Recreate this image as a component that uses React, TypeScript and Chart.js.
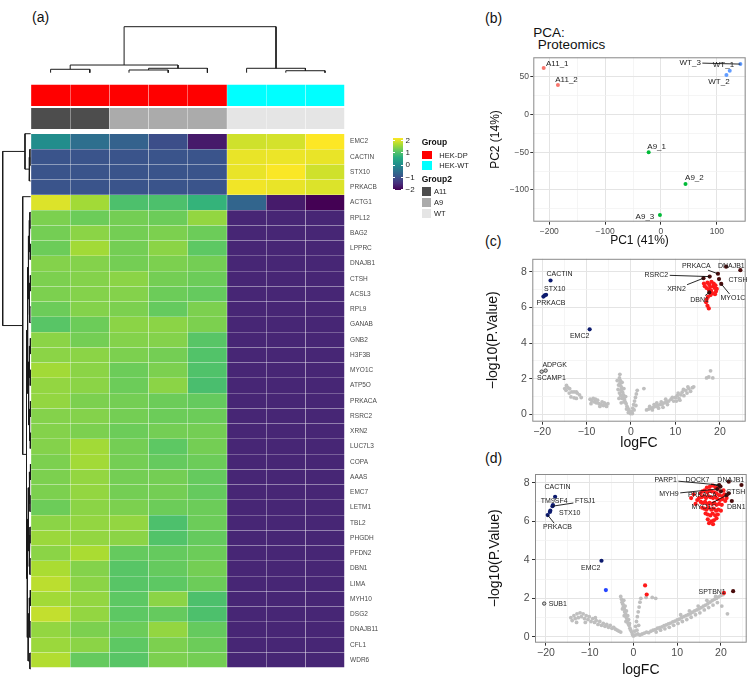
import React, { useEffect, useRef } from 'react';
import { Chart, registerables } from 'chart.js';

Chart.register(...registerables);

const FONT = "'Liberation Sans', Arial, Helvetica, sans-serif";
Chart.defaults.font.family = FONT;

// ================= (a) heatmap data =================
const sampleNames = ['S1', 'S2', 'S3', 'S4', 'S5', 'S6', 'S7', 'S8'];
const sampleGroup = ['HEK-DP', 'HEK-DP', 'HEK-DP', 'HEK-DP', 'HEK-DP', 'HEK-WT', 'HEK-WT', 'HEK-WT'];
const sampleGroup2 = ['A11', 'A11', 'A9', 'A9', 'A9', 'WT', 'WT', 'WT'];
const geneNames = ['EMC2', 'CACTIN', 'STX10', 'PRKACB', 'ACTG1', 'RPL12', 'BAG2', 'LPPRC', 'DNAJB1', 'CTSH',
  'ACSL3', 'RPL9', 'GANAB', 'GNB2', 'H3F3B', 'MYO1C', 'ATP5O', 'PRKACA', 'RSRC2', 'XRN2', 'LUC7L3', 'COPA',
  'AAAS', 'EMC7', 'LETM1', 'TBL2', 'PHGDH', 'PFDN2', 'DBN1', 'LIMA', 'MYH10', 'DSG2', 'DNAJB11', 'CFL1', 'WDR6'];
const zScores: number[][] = [
  [-0.05, -0.55, -0.75, -1.05, -1.72, 1.72, 1.75, 2.0],
  [-0.97, -0.97, -0.97, -0.97, -0.97, 1.88, 1.9, 1.88],
  [-0.97, -0.97, -0.97, -0.97, -0.97, 1.88, 1.98, 1.72],
  [-0.97, -0.97, -0.97, -0.97, -0.97, 1.93, 1.88, 1.8],
  [1.8, 1.45, 0.85, 0.85, 0.62, -0.7, -1.7, -2.0],
  [1.2, 1.1, 1.15, 1.1, 1.35, -1.58, -1.58, -1.58],
  [1.15, 1.3, 1.15, 1.2, 1.1, -1.58, -1.58, -1.58],
  [1.1, 1.45, 1.15, 1.3, 1.0, -1.58, -1.58, -1.58],
  [1.25, 1.25, 1.15, 1.2, 1.15, -1.58, -1.58, -1.58],
  [1.2, 1.25, 1.3, 1.15, 1.1, -1.58, -1.58, -1.58],
  [1.2, 1.25, 1.25, 1.1, 1.05, -1.58, -1.58, -1.58],
  [1.1, 1.25, 1.2, 1.05, 1.2, -1.58, -1.58, -1.58],
  [0.95, 1.1, 1.3, 1.3, 1.2, -1.58, -1.58, -1.58],
  [1.3, 1.15, 1.25, 1.25, 0.95, -1.58, -1.58, -1.58],
  [1.3, 1.3, 1.2, 1.15, 0.9, -1.58, -1.58, -1.58],
  [1.45, 1.3, 1.1, 1.2, 0.88, -1.58, -1.58, -1.58],
  [1.35, 1.3, 1.1, 1.3, 0.82, -1.58, -1.58, -1.58],
  [1.35, 1.2, 1.15, 1.1, 1.05, -1.58, -1.58, -1.58],
  [1.25, 1.25, 1.15, 1.1, 1.1, -1.58, -1.58, -1.58],
  [1.25, 1.2, 1.1, 1.15, 1.15, -1.58, -1.58, -1.58],
  [1.25, 1.45, 1.15, 1.0, 1.15, -1.58, -1.58, -1.58],
  [1.2, 1.45, 1.15, 1.05, 1.1, -1.58, -1.58, -1.58],
  [1.2, 1.35, 1.15, 1.15, 1.05, -1.58, -1.58, -1.58],
  [1.2, 1.35, 1.15, 1.15, 1.05, -1.58, -1.58, -1.58],
  [1.1, 1.3, 1.2, 1.1, 1.1, -1.58, -1.58, -1.58],
  [1.3, 1.35, 1.35, 0.85, 1.1, -1.58, -1.58, -1.58],
  [1.4, 1.35, 1.3, 0.9, 1.05, -1.58, -1.58, -1.58],
  [1.3, 1.5, 1.05, 1.05, 1.1, -1.58, -1.58, -1.58],
  [1.5, 1.25, 0.95, 1.05, 1.15, -1.58, -1.58, -1.58],
  [1.6, 1.3, 0.95, 1.0, 1.1, -1.58, -1.58, -1.58],
  [1.45, 1.35, 1.0, 1.3, 0.85, -1.58, -1.58, -1.58],
  [1.65, 1.35, 1.0, 1.05, 0.85, -1.58, -1.58, -1.58],
  [1.35, 1.2, 1.1, 1.35, 1.05, -1.58, -1.58, -1.58],
  [1.4, 1.3, 1.0, 1.2, 1.1, -1.58, -1.58, -1.58],
  [1.55, 1.05, 0.95, 1.2, 1.15, -1.58, -1.58, -1.58],
];
// hclust-style merges: negative = leaf (1-based), positive = earlier merge (1-based); third = height
const colMerges: [number, number, number][] = [
  [-1, -2, 7.4], [-3, -4, 5.9], [2, -5, 9.6], [1, 3, 16.7], [-7, -8, 4.3], [-6, 5, 9.6], [4, 6, 100],
];
const rowMerges: [number, number, number][] = [
  [-2, -3, 3], [1, -4, 5], [-1, 2, 20.4],
  [-6, -7, 3], [-8, -9, 2.5], [-10, -11, 2], [-12, -13, 3.5], [-14, -15, 2], [-16, -17, 2.5],
  [-18, -19, 1.8], [-20, -21, 2.2], [-22, -23, 1.5], [-24, -25, 2.8], [-26, -27, 2.6], [-28, -29, 3],
  [-30, -31, 2.4], [-32, -33, 3.2], [-34, -35, 2.9],
  [4, 5, 5], [6, 7, 5.5], [8, 9, 4.5], [10, 11, 4], [12, 13, 5], [14, 15, 6], [16, 17, 5.5],
  [19, 20, 8], [21, 22, 7.5], [23, 24, 8.5], [25, 18, 9],
  [26, 27, 11], [28, 29, 12], [30, 31, 15], [-5, 32, 28.6], [3, 33, 100],
];

// ================= (b) PCA data =================
const pcaA11: [string, number, number][] = [['A11_1', -210, 61.5], ['A11_2', -184.5, 39]];
const pcaA9: [string, number, number][] = [['A9_1', -22, -50], ['A9_2', 44, -92], ['A9_3', -1.8, -133]];
const pcaWT: [string, number, number][] = [['WT_3', 142.3, 66.7], ['WT_1', 123.2, 57.8], ['WT_2', 117.3, 52.1]];

// ================= (c) volcano data =================
const cGray: [number, number][] = [
  [-14.5, 1.63], [-13.8, 1.44], [-14.6, 1.35], [-13.3, 1.26], [-12.8, 1.26], [-12.3, 1.26], [-12.1, 1.2], [-13.5, 0.98],
  [-12.8, 0.93], [-12.3, 0.9], [-14.2, 1.5], [-13.9, 1.2], [-11.6, 1.1], [-11.2, 0.95], [-14.9, 1.45],
  [-9.2, 0.85], [-8.8, 0.75], [-8.5, 0.9], [-8.2, 0.7], [-7.8, 0.65], [-7.5, 0.8], [-7.2, 0.6], [-6.8, 0.55], [-6.5, 0.7],
  [-6.2, 0.5], [-5.8, 0.55], [-5.5, 0.45], [-5.2, 0.6], [-9.0, 0.6], [-7.0, 0.45], [-8.0, 0.85], [-6.0, 0.65],
  [-2.5, 2.25], [-2.6, 2.05], [-2.4, 1.9], [-2.5, 1.75], [-2.3, 1.6], [-2.1, 1.5], [-2.2, 1.35], [-1.9, 1.25], [-1.7, 1.1],
  [-1.8, 0.95], [-1.5, 0.85], [-1.3, 0.7], [-1.1, 0.6], [-0.9, 0.45], [-0.7, 0.35], [-0.5, 0.25], [-0.3, 0.15], [-0.1, 0.05],
  [-2.8, 1.65], [-2.0, 1.8], [-1.6, 1.45], [-1.2, 1.0], [-2.9, 1.4], [-2.6, 1.2], [-2.3, 1.05], [-2.0, 0.9], [-1.6, 0.7],
  [-1.0, 0.3], [-0.6, 0.1], [-3.1, 1.9], [-2.7, 0.9], [-2.2, 0.65],
  [0.2, 0.15], [0.4, 0.35], [0.6, 0.55], [0.8, 0.75], [1.0, 0.95], [1.2, 1.15], [1.4, 1.35], [0.3, 0.05], [0.7, 0.25],
  [1.1, 0.5], [2.9, 1.45],
  [3.5, 0.25], [4.0, 0.3], [4.5, 0.35], [5.0, 0.4], [5.5, 0.45], [6.0, 0.5], [6.5, 0.55], [7.0, 0.55], [7.5, 0.65],
  [8.0, 0.7], [8.5, 0.75], [9.0, 0.85], [9.3, 0.95], [4.2, 0.45], [5.2, 0.55], [6.2, 0.35], [7.2, 0.4], [8.2, 0.55],
  [6.8, 0.7], [5.8, 0.65], [4.8, 0.25], [7.8, 0.85],
  [9.6, 0.75], [10.0, 0.95], [10.4, 1.05], [10.8, 0.9], [11.2, 1.1], [11.5, 1.25], [11.9, 1.05], [12.3, 1.35],
  [12.6, 1.2], [13.0, 1.45], [13.4, 1.3], [13.8, 1.5], [14.1, 1.55], [10.6, 1.2], [11.8, 1.4], [12.8, 1.55],
  [10.2, 0.75], [11.0, 0.8],
  [17.0, 2.05], [17.5, 2.1], [18.4, 2.05], [17.9, 2.45],
];
const cRed: [number, number][] = [
  [17.2, 7.4], [17.6, 7.3], [18.1, 7.45], [18.5, 7.2], [17.0, 7.1], [17.5, 7.0], [18.0, 6.95], [18.8, 7.1], [19.1, 6.9],
  [16.6, 7.2], [17.8, 7.15], [18.4, 6.8], [19.3, 7.05], [17.3, 6.6], [17.0, 6.45], [17.2, 6.1], [17.5, 5.95], [16.9, 6.3],
  [18.9, 6.75], [17.9, 6.7], [16.4, 7.35], [18.6, 7.35], [19.0, 7.25],
];
const cUpTop: [string, number, number][] = [
  ['XRN2', 16.3, 7.65], ['RSRC2', 17.7, 7.74], ['PRKACA', 19.55, 7.9], ['CTSH', 19.8, 7.6], ['MYO1C', 20.3, 7.33],
  ['DNAJB1', 21.4, 8.3], ['DBN1', 17.6, 6.85], ['', 24.6, 8.1],
];
const cDownTop: [string, number, number][] = [
  ['CACTIN', -18.1, 7.52], ['STX10', -19.1, 6.72], ['', -19.4, 6.68], ['PRKACB', -19.7, 6.62], ['EMC2', -9.3, 4.78],
];
const cOtherTop: [string, number, number][] = [['ADPGK', -19.2, 2.46], ['SCAMP1', -20.1, 2.4]];

// ================= (d) volcano data =================
const dGray: [number, number][] = [
  [-14.3, 1.0], [-14.0, 0.85], [-13.6, 1.1], [-13.3, 0.95], [-12.9, 1.2], [-12.6, 1.0], [-12.2, 1.25], [-11.9, 1.05],
  [-11.5, 1.2], [-11.2, 0.95], [-10.8, 1.1], [-10.4, 0.9], [-10.1, 1.05], [-9.7, 0.8], [-9.3, 0.95], [-8.9, 0.75],
  [-8.5, 0.85], [-8.1, 0.65], [-7.7, 0.8], [-7.3, 0.6], [-6.9, 0.7], [-6.5, 0.55], [-6.1, 0.65], [-5.7, 0.5],
  [-5.3, 0.6], [-4.9, 0.45], [-4.5, 0.5], [-4.1, 0.4], [-3.7, 0.35], [-3.3, 0.3], [-2.9, 0.25], [-13.0, 0.75],
  [-11.0, 0.75], [-8.7, 1.0],
  [-2.9, 2.1], [-2.7, 1.95], [-2.6, 1.8], [-2.4, 1.7], [-2.3, 1.55], [-2.1, 1.45], [-2.0, 1.3], [-1.8, 1.2], [-1.7, 1.05],
  [-1.5, 0.95], [-1.4, 0.85], [-1.2, 0.7], [-1.0, 0.6], [-0.8, 0.45], [-0.6, 0.35], [-0.4, 0.25], [-0.2, 0.12], [0, 0.05],
  [-2.2, 1.9], [-1.9, 1.6], [-1.6, 1.35], [-1.3, 1.1], [-1.1, 0.9], [-0.9, 0.7], [-2.5, 1.45], [-2.1, 1.1], [-1.7, 0.8],
  [0.3, 0.3], [0.5, 0.55], [0.7, 0.8], [0.9, 1.05], [1.1, 1.3], [1.3, 1.55], [1.5, 1.8], [1.7, 2.0], [0.4, 0.1],
  [0.8, 0.35], [1.2, 0.6], [1.0, 0.15], [2.9, 2.05], [4.3, 2.05], [5.1, 2.0],
  [1.5, 0.1], [2.0, 0.15], [2.5, 0.2], [3.0, 0.25], [3.5, 0.22], [4.0, 0.3], [4.5, 0.35], [5.0, 0.38], [5.5, 0.45],
  [6.0, 0.48], [6.5, 0.52], [7.0, 0.58], [7.5, 0.62], [8.0, 0.68], [8.5, 0.72], [9.0, 0.78], [9.5, 0.82], [10.0, 0.88],
  [10.5, 0.92], [11.0, 1.0], [11.5, 1.05], [12.0, 1.1], [12.5, 1.15], [13.0, 1.2], [13.5, 1.28], [14.0, 1.35],
  [14.5, 1.4], [15.0, 1.45], [15.5, 1.52], [16.0, 1.6], [16.5, 1.65], [17.0, 1.72], [17.5, 1.8], [18.0, 1.88],
  [18.5, 1.95], [19.0, 2.0], [19.5, 2.08], [20.0, 2.15], [20.5, 2.2],
  [5.2, 0.25], [6.2, 0.35], [7.2, 0.42], [8.2, 0.5], [9.2, 0.6], [10.2, 0.7], [11.2, 0.8], [12.2, 0.9], [13.2, 1.02],
  [14.2, 1.15], [15.2, 1.25], [16.2, 1.4], [17.2, 1.52], [18.2, 1.65], [19.2, 1.78], [10.8, 1.15], [12.8, 1.35],
  [14.8, 1.6], [16.8, 1.9], [18.8, 2.1], [21.5, 1.2], [20.2, 1.6],
];
const dRed: [number, number][] = [
  [16.8, 7.75], [17.5, 7.8], [18.2, 7.85], [18.8, 7.75], [19.3, 7.7],
  [15.3, 7.45], [15.8, 7.55], [16.3, 7.6], [16.9, 7.5], [17.4, 7.6], [17.9, 7.55], [18.5, 7.5], [19.0, 7.45], [19.6, 7.35],
  [20.3, 7.3], [20.8, 7.4], [15.0, 7.2], [15.6, 7.25], [16.1, 7.3], [16.6, 7.2], [17.1, 7.3], [17.6, 7.25], [18.2, 7.2],
  [18.7, 7.25], [19.2, 7.15], [19.8, 7.1], [20.4, 7.15], [21.0, 7.05], [15.4, 7.0], [15.9, 6.95], [16.4, 7.0], [16.9, 6.9],
  [17.4, 6.95], [18.0, 6.9], [18.5, 6.95], [19.0, 6.85], [19.6, 6.9], [20.2, 6.85], [15.7, 6.7], [16.2, 6.65], [16.7, 6.6],
  [17.2, 6.7], [17.8, 6.6], [18.3, 6.65], [18.9, 6.55], [19.4, 6.6], [20.0, 6.55], [16.5, 6.4], [17.0, 6.35], [17.6, 6.3],
  [18.1, 6.4], [18.7, 6.3], [19.3, 6.35], [17.0, 6.1], [17.8, 6.0], [18.4, 6.05], [19.0, 6.15], [18.2, 5.85], [17.3, 5.9],
  [14.6, 7.1], [20.6, 7.6], [21.3, 7.2], [13.2, 7.2], [13.8, 7.4], [14.2, 6.9],
  [2.67, 2.67], [3.04, 2.2], [20.7, 2.28],
];
const dBlue: [number, number][] = [[-6.3, 2.43]];
const dUpTop: [string, number, number][] = [
  ['PARP1', 19.6, 7.88], ['DOCK7', 19.9, 7.8], ['MYH9', 19.2, 7.67], ['PRKACA', 20.0, 7.55], ['DNAJB1', 21.8, 8.05],
  ['', 24.7, 7.88], ['CTSH', 21.8, 7.45], ['MYO1C', 21.3, 7.35], ['DBN1', 22.5, 7.05], ['SPTBN1', 22.8, 2.37],
];
const dDownTop: [string, number, number][] = [
  ['CACTIN', -17.9, 7.27], ['TM9SF4', -18.4, 6.84], ['FTSJ1', -18.5, 6.78], ['STX10', -19.0, 6.55], ['', -19.1, 6.48],
  ['PRKACB', -19.6, 6.32], ['EMC2', -7.3, 3.95],
];
const dOtherTop: [string, number, number][] = [['SUB1', -20.4, 1.73]];

// ---- label placement (pixel offsets from the point; line = repel segment) ----
type Place = [number, number, boolean];
const pcaPlace: Record<string, Place> = {
  A11_1: [13.6, -4.6, false], A11_2: [8.6, -4.9, false], A9_1: [8, -5.3, false], A9_2: [8.9, -6, false],
  A9_3: [-15, 1.4, false], WT_3: [-50.2, -1.3, true], WT_1: [-6.3, -5.7, false], WT_2: [-7.5, 6.7, false],
};
const cPlace: Record<string, Place> = {
  CACTIN: [9, -6, false], STX10: [8.7, -6, false], PRKACB: [7.6, 6.6, false], EMC2: [-10, 7, false],
  ADPGK: [9, -6, false], SCAMP1: [9.8, 6.2, false], PRKACA: [-21.6, -7.8, true], DNAJB1: [5.2, -0.6, false],
  RSRC2: [-53.3, -1.7, true], XRN2: [-27, 10.7, true], CTSH: [19, 0.8, false], MYO1C: [11.7, 14.3, true],
  DBN1: [-9.6, 7.3, true],
};
const dPlace: Record<string, Place> = {
  CACTIN: [2.4, -10, false], TM9SF4: [1.3, -4, false], FTSJ1: [32.7, -5, true], STX10: [19.5, 2.7, false],
  PRKACB: [9.8, 12.3, true], EMC2: [-10.7, 7.6, false], SUB1: [13.6, 0.6, false], SPTBN1: [-21, 1, false],
  PARP1: [-53.5, -5, true], DOCK7: [-23, -6, true], MYH9: [-48.4, 5, true], PRKACA: [-18.6, 3.6, false],
  DNAJB1: [2, -1.7, false], CTSH: [7, -1.6, false], MYO1C: [-22.6, 12, true], DBN1: [4.4, 5.7, false],
};

// ================= helpers =================
const VIRIDIS = ['#440154', '#472D7B', '#3B528B', '#2C728E', '#21908C', '#27AD81', '#5DC863', '#AADC32', '#FDE725'];
function hexRgb(h: string) {
  return [parseInt(h.slice(1, 3), 16), parseInt(h.slice(3, 5), 16), parseInt(h.slice(5, 7), 16)];
}
function viridis(v: number): string {
  const t = Math.max(0, Math.min(1, (v + 2) / 4)) * 8;
  const i = Math.min(7, Math.floor(t));
  const f = t - i;
  const a = hexRgb(VIRIDIS[i]);
  const b = hexRgb(VIRIDIS[i + 1]);
  const c = a.map((x, k) => Math.round(x + (b[k] - x) * f));
  return `rgb(${c[0]},${c[1]},${c[2]})`;
}
const groupColor: Record<string, string> = { 'HEK-DP': '#FF0000', 'HEK-WT': '#00FFFF' };
const group2Color: Record<string, string> = { A11: '#4D4D4D', A9: '#ABABAB', WT: '#E5E5E5' };

function dendroLines(merges: [number, number, number][]) {
  const pos: number[] = [];
  const hgt: number[] = [];
  const get = (id: number) => (id < 0 ? { p: -id - 0.5, h: 0 } : { p: pos[id - 1], h: hgt[id - 1] });
  const lines: [number, number][][] = [];
  merges.forEach(([a, b, h], k) => {
    const A = get(a);
    const B = get(b);
    lines.push([[A.p, A.h], [A.p, h], [B.p, h], [B.p, B.h]]);
    pos[k] = (A.p + B.p) / 2;
    hgt[k] = h;
  });
  return lines;
}

const fmt = (v: number) => (v < 0 ? '\u2212' + Math.abs(v) : String(v));

const panelBorder = {
  id: 'panelBorder',
  afterDraw(chart: any) {
    const { ctx, chartArea: a } = chart;
    ctx.save();
    ctx.strokeStyle = '#8a8a8a';
    ctx.lineWidth = 1;
    ctx.strokeRect(a.left + 0.5, a.top + 0.5, a.right - a.left - 1, a.bottom - a.top - 1);
    ctx.restore();
  },
};

const textLabels = {
  id: 'textLabels',
  afterDatasetsDraw(chart: any, _args: any, opts: any) {
    const items = opts && opts.items;
    if (!items || !items.length) return;
    const { ctx } = chart;
    const xs = chart.scales.x;
    const ys = chart.scales.y;
    const size = opts.size || 7;
    ctx.save();
    ctx.font = `${size}px ${FONT}`;
    ctx.textAlign = 'center';
    ctx.textBaseline = 'middle';
    for (const it of items) {
      const px = xs.getPixelForValue(it.x);
      const py = ys.getPixelForValue(it.y);
      const tx = px + it.dx;
      const ty = py + it.dy;
      const w = ctx.measureText(it.text).width;
      if (it.line) {
        const ddx = px - tx;
        const ddy = py - ty;
        const hw = w / 2 + 1.5;
        const hh = size * 0.6;
        const s = Math.min(ddx ? hw / Math.abs(ddx) : Infinity, ddy ? hh / Math.abs(ddy) : Infinity);
        if (s < 1) {
          ctx.beginPath();
          ctx.moveTo(tx + s * ddx, ty + s * ddy);
          ctx.lineTo(px, py);
          ctx.strokeStyle = '#111';
          ctx.lineWidth = 0.9;
          ctx.stroke();
        }
      }
      ctx.fillStyle = opts.color || '#222';
      ctx.fillText(it.text, tx, ty);
    }
    ctx.restore();
  },
};

function makeLabels(rows: [string, number, number][], place: Record<string, Place>) {
  return rows
    .filter(([n]) => n && place[n])
    .map(([n, x, y]) => ({ text: n, x, y, dx: place[n][0], dy: place[n][1], line: place[n][2] }));
}

function axis(o: {
  min: number; max: number; step: number; every: number; title: string; titleSize: number;
  titlePad: number; tickSize: number; tickPad: number; fixed: number; horizontal: boolean;
}) {
  const isMajor = (v: number) => Math.abs(v / o.every - Math.round(v / o.every)) < 1e-6;
  return {
    type: 'linear',
    min: o.min,
    max: o.max,
    ticks: {
      stepSize: o.step,
      includeBounds: false,
      autoSkip: false,
      maxRotation: 0,
      minRotation: 0,
      color: '#4d4d4d',
      font: { size: o.tickSize },
      padding: o.tickPad,
      callback: (v: number) => (isMajor(v) ? fmt(v) : ''),
    },
    grid: {
      color: (c: any) => (c.tick && isMajor(c.tick.value) ? '#e4e4e4' : '#f1f1f1'),
      lineWidth: (c: any) => (c.tick && isMajor(c.tick.value) ? 1 : 0.7),
      drawTicks: true,
      tickLength: 3,
      tickColor: (c: any) => (c.tick && isMajor(c.tick.value) ? '#333' : 'rgba(0,0,0,0)'),
      tickWidth: 1,
    },
    border: { display: false },
    title: {
      display: true,
      text: o.title,
      color: '#111',
      font: { size: o.titleSize },
      padding: { top: o.titlePad, bottom: o.titlePad },
    },
    afterFit: (s: any) => {
      if (o.horizontal) s.height = o.fixed;
      else s.width = o.fixed;
    },
  };
}

function pts(rows: [number, number][] | [string, number, number][]) {
  return (rows as any[]).map((r) => (r.length === 3 ? { x: r[1], y: r[2] } : { x: r[0], y: r[1] }));
}

function scatterSet(data: any[], color: string, radius: number, border?: string) {
  return {
    data,
    backgroundColor: color,
    borderColor: border || color,
    borderWidth: border ? 0.9 : 0,
    pointRadius: radius,
    pointHoverRadius: radius,
  };
}

const baseOpts = {
  animation: false,
  responsive: false,
  events: [],
};

// ================= chart configs =================
function heatmapConfig() {
  const cell = {
    borderColor: 'rgba(255,255,255,0.09)',
    borderWidth: 0.5,
    borderSkipped: false,
    grouped: false,
    barPercentage: 1,
    categoryPercentage: 1,
  };
  const rowSets = zScores.map((row, r) => ({
    data: row.map(() => [r, r + 1]),
    backgroundColor: row.map(viridis),
    ...cell,
  }));
  const annot = (vals: string[], cmap: Record<string, string>, span: [number, number]) => ({
    data: vals.map(() => span),
    backgroundColor: vals.map((g) => cmap[g]),
    ...cell,
  });
  return {
    type: 'bar',
    data: {
      labels: sampleNames,
      datasets: [
        annot(sampleGroup, groupColor, [-3.25, -1.83]),
        annot(sampleGroup2, group2Color, [-1.72, -0.32]),
        ...rowSets,
      ],
    },
    options: {
      ...baseOpts,
      layout: { padding: 0, autoPadding: false },
      plugins: { legend: { display: false }, tooltip: { enabled: false } },
      scales: {
        x: { type: 'category', display: false },
        y: {
          type: 'linear',
          reverse: true,
          min: -3.25,
          max: 35,
          position: 'right',
          grid: { display: false, drawTicks: false },
          border: { display: false },
          afterBuildTicks: (s: any) => {
            s.ticks = geneNames.map((_, i) => ({ value: i + 0.5 }));
          },
          afterFit: (s: any) => {
            s.width = 45.4;
          },
          ticks: {
            autoSkip: false,
            padding: 5.5,
            color: '#4a4a4a',
            font: { size: 6.5 },
            callback: (_v: any, i: number) => geneNames[i] || '',
          },
        },
      },
    },
  };
}

function dendroConfig(merges: [number, number, number][], vertical: boolean, nLeaves: number, pad: any) {
  const lines = dendroLines(merges);
  const datasets = lines.map((l) => ({
    data: l.map(([p, h]) => (vertical ? { x: h, y: p } : { x: p, y: h })),
    showLine: true,
    borderColor: '#1a1a1a',
    borderWidth: 1,
    pointRadius: 0,
    fill: false,
    clip: false,
    tension: 0,
  }));
  return {
    type: 'scatter',
    data: { datasets },
    options: {
      ...baseOpts,
      layout: { padding: pad, autoPadding: false },
      plugins: { legend: { display: false }, tooltip: { enabled: false } },
      scales: vertical
        ? {
            x: { type: 'linear', display: false, reverse: true, min: 0, max: 100 },
            y: { type: 'linear', display: false, reverse: true, min: 0, max: nLeaves },
          }
        : {
            x: { type: 'linear', display: false, min: 0, max: nLeaves },
            y: { type: 'linear', display: false, min: 0, max: 100 },
          },
    },
  };
}

function pcaConfig() {
  return {
    type: 'scatter',
    data: {
      datasets: [
        scatterSet(pts(pcaA11), '#F8766D', 2),
        scatterSet(pts(pcaA9), '#00BA38', 2),
        scatterSet(pts(pcaWT), '#619CFF', 2),
      ],
    },
    plugins: [panelBorder, textLabels],
    options: {
      ...baseOpts,
      layout: { padding: { top: 7.3, right: 10.3, left: 0, bottom: 0 }, autoPadding: false },
      plugins: {
        legend: { display: false },
        tooltip: { enabled: false },
        textLabels: {
          size: 8,
          color: '#222',
          items: [
            ...makeLabels(pcaA11, pcaPlace),
            ...makeLabels(pcaA9, pcaPlace),
            ...makeLabels(pcaWT, pcaPlace),
          ],
        },
      },
      scales: {
        x: axis({ min: -228.6, max: 151.8, step: 50, every: 100, title: 'PC1 (41%)', titleSize: 12, titlePad: 2.2,
          tickSize: 8.5, tickPad: 1.5, fixed: 28.3, horizontal: true }),
        y: axis({ min: -142, max: 75.7, step: 25, every: 50, title: 'PC2 (14%)', titleSize: 12, titlePad: 8.8,
          tickSize: 8.5, tickPad: 1.3, fixed: 53.3, horizontal: false }),
      },
    },
  };
}

function volcanoConfig(v: {
  gray: [number, number][]; red: [number, number][]; blue: [number, number][];
  up: [string, number, number][]; down: [string, number, number][]; other: [string, number, number][];
  place: Record<string, Place>; xMin: number; xMax: number; yMin: number; yMax: number;
  padTop: number; padRight: number; yW: number; xH: number; xTitlePad: number; yTitlePad: number;
}) {
  return {
    type: 'scatter',
    data: {
      datasets: [
        scatterSet(pts(v.up), '#4a0c0c', 2.1),
        scatterSet(pts(v.other), '#d0d0d0', 1.7, '#333333'),
        scatterSet(pts(v.down), '#0d1b6e', 2.1),
        scatterSet(pts(v.blue), '#2444ff', 2.1),
        scatterSet(pts(v.red), '#ff1a1a', 2.1),
        scatterSet(pts(v.gray), '#bfbfbf', 1.9),
      ],
    },
    plugins: [panelBorder, textLabels],
    options: {
      ...baseOpts,
      layout: { padding: { top: v.padTop, right: v.padRight, left: 0, bottom: 0 }, autoPadding: false },
      plugins: {
        legend: { display: false },
        tooltip: { enabled: false },
        textLabels: {
          size: 7,
          color: '#222',
          items: [...makeLabels(v.down, v.place), ...makeLabels(v.other, v.place), ...makeLabels(v.up, v.place)],
        },
      },
      scales: {
        x: axis({ min: v.xMin, max: v.xMax, step: 5, every: 10, title: 'logFC', titleSize: 14, titlePad: v.xTitlePad,
          tickSize: 10.5, tickPad: 1, fixed: v.xH, horizontal: true }),
        y: axis({ min: v.yMin, max: v.yMax, step: 1, every: 2, title: '\u2212log10(P.Value)', titleSize: 14,
          titlePad: v.yTitlePad, tickSize: 10.5, tickPad: 2.5, fixed: v.yW, horizontal: false }),
      },
    },
  };
}

// ================= components =================
function ChartBox(props: { left: number; top: number; width: number; height: number; make: () => any }) {
  const ref = useRef<HTMLCanvasElement>(null);
  useEffect(() => {
    const chart = new Chart(ref.current as HTMLCanvasElement, props.make());
    return () => chart.destroy();
  }, []);
  return (
    <canvas
      ref={ref}
      width={props.width}
      height={props.height}
      style={{ position: 'absolute', left: props.left, top: props.top, width: props.width, height: props.height }}
    />
  );
}

function Txt(props: { left: number; top: number; size: number; bold?: boolean; children: any; color?: string }) {
  return (
    <div
      style={{
        position: 'absolute',
        left: props.left,
        top: props.top,
        fontSize: props.size,
        lineHeight: 1,
        fontWeight: props.bold ? 'bold' : 'normal',
        color: props.color || '#111',
        whiteSpace: 'nowrap',
        fontFamily: FONT,
      }}
    >
      {props.children}
    </div>
  );
}

function Box(props: { left: number; top: number; w: number; h: number; color: string }) {
  return (
    <div
      style={{ position: 'absolute', left: props.left, top: props.top, width: props.w, height: props.h, background: props.color }}
    />
  );
}

const legendTicks = ['2', '1', '0', '\u22121', '\u22122'];

export default function App() {
  const gradient = `linear-gradient(to top, ${VIRIDIS.map((c, i) => `${c} ${(i * 100) / 8}%`).join(', ')})`;
  return (
    <div style={{ position: 'fixed', left: 0, top: 0, width: 756, height: 681, background: '#fff', overflow: 'hidden', fontFamily: FONT }}>
      {/* panel labels */}
      <Txt left={32} top={9.5} size={14}>(a)</Txt>
      <Txt left={485} top={10.5} size={14}>(b)</Txt>
      <Txt left={485} top={234} size={14}>(c)</Txt>
      <Txt left={485} top={450.5} size={14}>(d)</Txt>

      {/* (a) heatmap */}
      <ChartBox left={30.7} top={25} width={314} height={48}
        make={() => dendroConfig(colMerges, false, 8, { top: 1.7, bottom: 0.3, left: 0, right: 0.4 })} />
      <ChartBox left={0} top={125} width={32} height={552}
        make={() => dendroConfig(rowMerges, true, 35, { top: 0.85, bottom: 0.3, left: 2.7, right: 1.3 })} />
      <ChartBox left={30.7} top={74.7} width={359} height={602} make={heatmapConfig} />

      {/* heatmap legends */}
      <div style={{ position: 'absolute', left: 393.3, top: 138.3, width: 10, height: 51.7, background: gradient }} />
      {legendTicks.map((t, i) => (
        <React.Fragment key={t}>
          <Box left={393.3} top={140.5 + i * 12.35 - 0.5} w={2} h={1} color="#fff" />
          <Box left={401.3} top={140.5 + i * 12.35 - 0.5} w={2} h={1} color="#fff" />
          <Txt left={405.5} top={140.5 + i * 12.35 - 4} size={8} color="#222">{t}</Txt>
        </React.Fragment>
      ))}
      <Txt left={421.7} top={138} size={8.5} bold>Group</Txt>
      <Box left={422} top={150.7} w={9.7} h={8.5} color={groupColor['HEK-DP']} />
      <Box left={422} top={161} w={9.7} h={8.5} color={groupColor['HEK-WT']} />
      <Txt left={439.3} top={151.6} size={7.5} color="#222">HEK-DP</Txt>
      <Txt left={439.3} top={161.9} size={7.5} color="#222">HEK-WT</Txt>
      <Txt left={421.7} top={175} size={8.5} bold>Group2</Txt>
      <Box left={422.3} top={187.3} w={8.7} h={9.2} color={group2Color.A11} />
      <Box left={422.3} top={198.3} w={8.7} h={9.2} color={group2Color.A9} />
      <Box left={422.3} top={209.3} w={8.7} h={9.2} color={group2Color.WT} />
      <Txt left={434} top={188.4} size={7.5} color="#222">A11</Txt>
      <Txt left={434} top={199.4} size={7.5} color="#222">A9</Txt>
      <Txt left={434} top={210.4} size={7.5} color="#222">WT</Txt>

      {/* (b) PCA */}
      <Txt left={533.3} top={25.7} size={13.5}>PCA:</Txt>
      <Txt left={537.7} top={38.2} size={13.5}>Proteomics</Txt>
      <ChartBox left={480} top={50} width={276} height={200} make={pcaConfig} />

      {/* (c) volcano */}
      <ChartBox left={480} top={250} width={276} height={205}
        make={() => volcanoConfig({
          gray: cGray, red: cRed, blue: [], up: cUpTop, down: cDownTop, other: cOtherTop, place: cPlace,
          xMin: -22.2, xMax: 25.8, yMin: -0.41, yMax: 8.74, padTop: 7.3, padRight: 10.3, yW: 52.3, xH: 33.3,
          xTitlePad: 3.6, yTitlePad: 4.6,
        })} />

      {/* (d) volcano */}
      <ChartBox left={480} top={465} width={276} height={216}
        make={() => volcanoConfig({
          gray: dGray, red: dRed, blue: dBlue, up: dUpTop, down: dDownTop, other: dOtherTop, place: dPlace,
          xMin: -22.5, xMax: 25.9, yMin: -0.3, yMax: 8.45, padTop: 9, padRight: 9.3, yW: 55, xH: 38.3,
          xTitlePad: 2.6, yTitlePad: 6.6,
        })} />
    </div>
  );
}
